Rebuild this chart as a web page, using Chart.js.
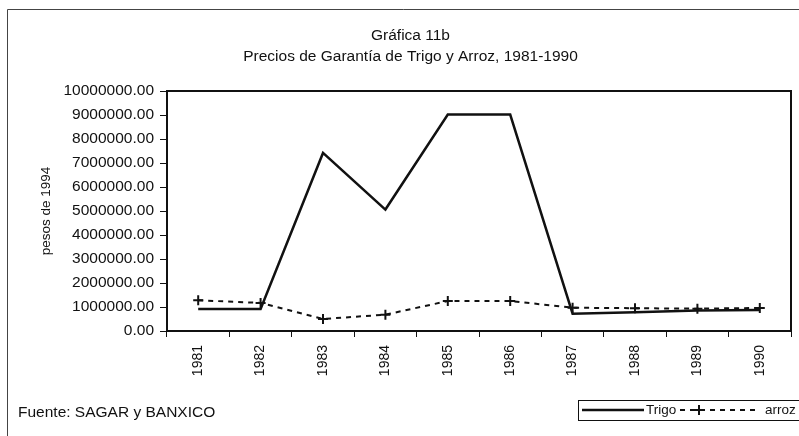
<!DOCTYPE html>
<html>
<head>
<meta charset="utf-8">
<script src="https://cdn.jsdelivr.net/npm/chart.js@4"></script>
<style>
  body { margin: 0; background: #fff; }
  canvas { display: block; }
</style>
</head>
<body>
<canvas id="grafica" width="799" height="436"></canvas>
<script>
const years = ["1981", "1982", "1983", "1984", "1985", "1986", "1987", "1988", "1989", "1990"];
const trigo = [920000, 920000, 7420000, 5060000, 9020000, 9020000, 720000, 780000, 850000, 880000];
const arroz = [1280000, 1170000, 500000, 680000, 1250000, 1250000, 970000, 950000, 930000, 960000];
const yTicks = [0, 10000000, 1000000]; // min, max, step

const FONT = "'Liberation Sans', Arial, sans-serif";
const INK = "#111";

// frame around the plot, scanned page border, source note and the legend
const decorations = {
  id: "decorations",
  beforeDraw(chart) {
    const ctx = chart.ctx;
    ctx.save();
    ctx.fillStyle = "#fff";
    ctx.fillRect(0, 0, chart.width, chart.height);
    ctx.strokeStyle = "#444";
    ctx.lineWidth = 1;
    ctx.beginPath();
    ctx.moveTo(7.5, chart.height);
    ctx.lineTo(7.5, 9.5);
    ctx.lineTo(chart.width, 9.5);
    ctx.stroke();
    ctx.restore();
  },
  afterDraw(chart) {
    const ctx = chart.ctx;
    const a = chart.chartArea;
    ctx.save();
    ctx.strokeStyle = INK;
    ctx.lineWidth = 2;
    ctx.strokeRect(a.left, a.top, a.right - a.left, a.bottom - a.top);

    ctx.fillStyle = INK;
    ctx.font = "15.5px " + FONT;
    ctx.textBaseline = "middle";
    ctx.fillText("Fuente: SAGAR y BANXICO", 18, 413);

    // legend
    const ly = 410;
    ctx.font = "13.5px " + FONT;
    ctx.lineWidth = 1;
    ctx.strokeRect(578.5, 400.5, 240, 20);
    const ds = chart.data.datasets;
    ctx.lineWidth = ds[0].borderWidth;
    ctx.beginPath();
    ctx.moveTo(582, ly);
    ctx.lineTo(644, ly);
    ctx.stroke();
    ctx.fillText(ds[0].label, 646, ly);

    ctx.lineWidth = ds[1].borderWidth;
    ctx.setLineDash(ds[1].borderDash);
    ctx.beginPath();
    ctx.moveTo(680, ly);
    ctx.lineTo(760, ly);
    ctx.stroke();
    ctx.setLineDash([]);
    ctx.beginPath();
    ctx.moveTo(699 - 5, ly);
    ctx.lineTo(699 + 5, ly);
    ctx.moveTo(699, ly - 5);
    ctx.lineTo(699, ly + 5);
    ctx.stroke();
    ctx.fillText(ds[1].label, 765, ly);
    ctx.restore();
  },
};

new Chart(document.getElementById("grafica"), {
  type: "line",
  data: {
    labels: years,
    datasets: [
      {
        label: "Trigo",
        data: trigo,
        borderColor: INK,
        borderWidth: 2.5,
        pointRadius: 0,
        tension: 0,
      },
      {
        label: "arroz",
        data: arroz,
        borderColor: INK,
        borderWidth: 2,
        borderDash: [5, 5],
        pointStyle: "cross",
        pointRadius: 5,
        pointBorderWidth: 2,
        pointBorderColor: INK,
        tension: 0,
      },
    ],
  },
  options: {
    responsive: false,
    animation: false,
    layout: { padding: { left: 30, right: 8, top: 0, bottom: 45 } },
    plugins: {
      legend: { display: false },
      tooltip: { enabled: false },
      title: {
        display: true,
        text: ["Gráfica 11b", "Precios de Garantía de Trigo y Arroz, 1981-1990"],
        color: INK,
        font: { family: FONT, size: 15.5, weight: "normal", lineHeight: 21 / 15.5 },
        padding: { top: 25, bottom: 24 },
      },
    },
    scales: {
      x: {
        offset: true,
        afterFit: (s) => { s.height = 60; },
        border: { display: false },
        grid: { offset: true, drawOnChartArea: false, drawTicks: true, tickLength: 6, color: INK },
        ticks: {
          color: INK,
          font: { family: FONT, size: 14 },
          minRotation: 90,
          maxRotation: 90,
          padding: 8,
        },
      },
      y: {
        min: yTicks[0],
        max: yTicks[1],
        afterFit: (s) => { s.width = 137; },
        border: { display: false },
        grid: { drawOnChartArea: false, drawTicks: true, tickLength: 7, color: INK },
        ticks: {
          stepSize: yTicks[2],
          color: INK,
          font: { family: FONT, size: 15.5 },
          padding: 6,
          callback: (v) => v.toFixed(2),
        },
        title: {
          display: true,
          text: "pesos de 1994",
          color: INK,
          font: { family: FONT, size: 13.5 },
          padding: { top: 8, bottom: 0 },
        },
      },
    },
  },
  plugins: [decorations],
});
</script>
</body>
</html>
